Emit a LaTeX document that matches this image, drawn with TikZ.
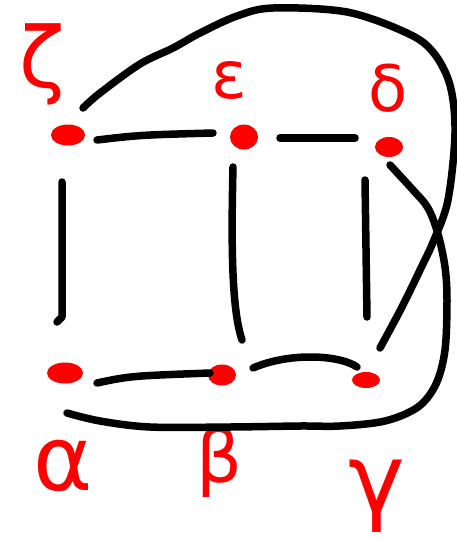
\documentclass[tikz,border=0pt]{standalone}
\usepackage{fontspec}
\setmainfont{DejaVu Sans}
\usetikzlibrary{shapes.geometric,calc}
\definecolor{pen}{RGB}{255,0,0}
\tikzset{
  edge/.style={draw=black, line width=7.5pt, line cap=round, line join=round},
  blob/.style={ellipse, fill=pen, inner sep=0pt},
  greek/.style={text=pen, inner sep=0pt, anchor=center},
}
\begin{document}
\begin{tikzpicture}[x=1pt,y=-1pt]
\useasboundingbox (0,0) rectangle (457,539);
% dots
\node[blob, minimum width=34pt, minimum height=21pt] (z) at (68,135) {};
\node[blob, minimum width=28pt, minimum height=25pt] (e) at (244,137) {};
\node[blob, minimum width=28pt, minimum height=20pt] (d) at (389,147) {};
\node[blob, minimum width=36pt, minimum height=21pt] (a) at (65,373) {};
\node[blob, minimum width=28pt, minimum height=21pt] (b) at (222,375) {};
\node[blob, minimum width=28pt, minimum height=16pt] (g) at (366,380) {};
% labels
\node[greek, font=\fontsize{84}{84}\selectfont] (lz) at (42,64) {ζ};
\node[greek, font=\fontsize{66}{66}\selectfont] (le) at (229,80) {ε};
\node[greek, font=\fontsize{64}{64}\selectfont] (ld) at (388,88) {δ};
\node[greek, font=\fontsize{90}{90}\selectfont] (la) at (63,466) {α};
\node[greek, font=\fontsize{72}{72}\selectfont] (lb) at (219,462) {β};
\node[greek, font=\fontsize{96}{96}\selectfont] (lg) at (377,496) {γ};
% short connectors
\draw[edge] ($(z)+(29,5)$) .. controls (140,135) .. ($(e)+(-31,-4)$);
\draw[edge] ($(e)+(36,1)$) -- ($(d)+(-34,-9)$);
\draw[edge] ($(z)+(-6,47)$) -- (62,317) -- ($(a)+(-8,-51)$);
\draw[edge] ($(e)+(-11,30)$) .. controls (231,250) and (232,310) .. ($(b)+(20,-35)$);
\draw[edge] ($(d)+(-24,33)$) -- ($(g)+(1,-63)$);
\draw[edge] ($(a)+(32,10)$) .. controls (130,376) .. ($(b)+(-12,-2)$);
\draw[edge] ($(b)+(31,-7)$) .. controls (290,352) and (340,355) .. ($(g)+(-9,-13)$);
% long connectors
\draw[edge] plot[smooth, tension=0.55] coordinates {($(z)+(15,-27)$) (100,93) (140,64) (173,48) (200,33) (237,16) (273,8) (347,12) (407,33) (433,52) (450,85) (455,133) (448,200) (434,240) (421,268) (402,307) ($(g)+(14,-32)$)};
\draw[edge] plot[smooth, tension=0.55] coordinates {($(d)+(1,18)$) (413,190) (428,208) (438,234) (445,267) (447,300) (445,350) (436,384) (418,407) (385,421) (340,426) (300,426) (230,427) (150,427) (100,421) ($(a)+(2,40)$)};
\end{tikzpicture}
\end{document}
